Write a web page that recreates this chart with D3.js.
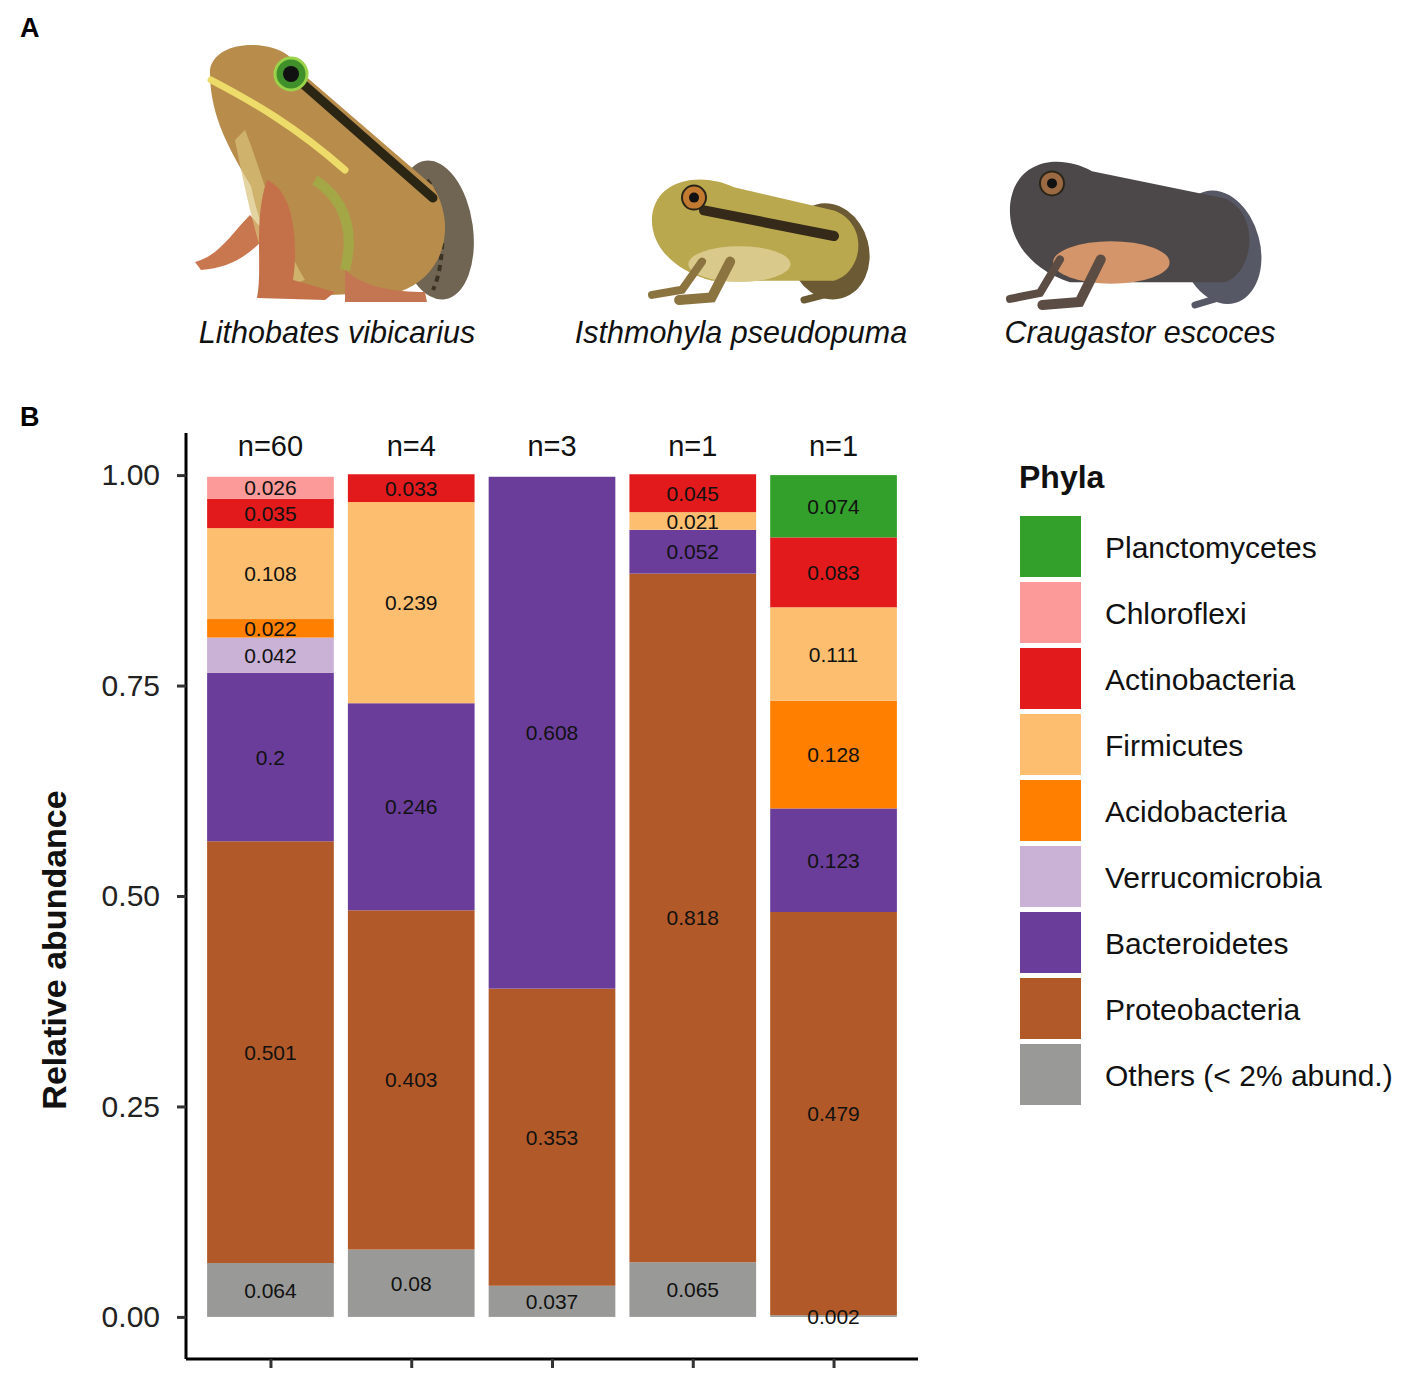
<!DOCTYPE html>
<html>
<head>
<meta charset="utf-8">
<script src="https://cdn.jsdelivr.net/npm/d3@7"></script>
<style>
  body { margin: 0; background: #fff; }
  svg { display: block; font-family: "Liberation Sans", Arial, Helvetica, sans-serif; }
</style>
</head>
<body>
<svg id="fig" width="1412" height="1374"></svg>
<script>
// Chart values
var samples = ["s1", "s2", "s3", "s4", "s5"];
var sampleSizes = ["n=60", "n=4", "n=3", "n=1", "n=1"];
var species = ["Lithobates vibicarius", "Isthmohyla pseudopuma", "Craugastor escoces"];

// legend order, top to bottom
var phyla = ["Planctomycetes", "Chloroflexi", "Actinobacteria", "Firmicutes", "Acidobacteria",
  "Verrucomicrobia", "Bacteroidetes", "Proteobacteria", "Others (< 2% abund.)"];
var phylaColors = ["#33a02c", "#fb9a99", "#e31a1c", "#fdbf6f", "#ff7f00",
  "#cab2d6", "#6a3d9a", "#b15928", "#999a98"];

// relative abundance of each phylum in each sample
var planctomycetes   = [0,     0,     0,     0,     0.074];
var chloroflexi      = [0.026, 0,     0,     0,     0];
var actinobacteria   = [0.035, 0.033, 0,     0.045, 0.083];
var firmicutes       = [0.108, 0.239, 0,     0.021, 0.111];
var acidobacteria    = [0.022, 0,     0,     0,     0.128];
var verrucomicrobia  = [0.042, 0,     0,     0,     0];
var bacteroidetes    = [0.2,   0.246, 0.608, 0.052, 0.123];
var proteobacteria   = [0.501, 0.403, 0.353, 0.818, 0.479];
var others           = [0.064, 0.08,  0.037, 0.065, 0.002];

var yTicks = [0, 0.25, 0.5, 0.75, 1];

var svg = d3.select("#fig");

// panel letters
svg.append("text").attr("x", 20).attr("y", 37).text("A")
  .style("font-size", "27px").style("font-weight", "bold");
svg.append("text").attr("x", 20).attr("y", 426).text("B")
  .style("font-size", "27px").style("font-weight", "bold");

/* ---------- Panel A: stylised frogs in place of the photos ---------- */
function frogUpright(g) {
  g.append("ellipse").attr("cx", 240).attr("cy", 190).attr("rx", 38).attr("ry", 70)
    .attr("transform", "rotate(-8,240,190)").attr("fill", "#6f6552");
  g.append("path").attr("d", "M232,140 C250,160 252,220 238,250").attr("fill", "none")
    .attr("stroke", "#3b3324").attr("stroke-width", 4).attr("stroke-dasharray", "6,5");
  g.append("path").attr("d", "M55,175 C35,195 25,215 0,222 L6,230 C35,228 55,215 72,195 Z").attr("fill", "#c9774e");
  g.append("path")
    .attr("d", "M15,30 C18,8 50,0 78,8 C92,12 100,20 108,34 L238,146 C262,186 250,236 204,252 L112,256 C84,238 64,186 56,146 C36,112 14,76 15,30 Z")
    .attr("fill", "#b88d4c");
  g.append("path").attr("d", "M50,90 C70,140 80,190 110,240 L80,250 C60,200 50,150 40,100 Z").attr("fill", "#d8c27a").attr("opacity", 0.7);
  g.append("path").attr("d", "M16,40 C58,62 100,86 150,130").attr("fill", "none")
    .attr("stroke", "#eedc6a").attr("stroke-width", 7).attr("stroke-linecap", "round");
  g.append("path").attr("d", "M108,44 L238,158").attr("fill", "none")
    .attr("stroke", "#2b2614").attr("stroke-width", 9).attr("stroke-linecap", "round");
  g.append("path").attr("d", "M120,140 C150,160 160,190 150,230").attr("fill", "none")
    .attr("stroke", "#9fae45").attr("stroke-width", 10).attr("opacity", 0.8);
  g.append("path").attr("d", "M72,140 C98,150 104,200 98,240 L140,252 L130,260 L62,258 C68,228 58,180 72,140 Z").attr("fill", "#c4714a");
  g.append("path").attr("d", "M150,230 C170,248 200,252 230,252 L232,262 L150,262 Z").attr("fill", "#c47552");
  g.append("circle").attr("cx", 96).attr("cy", 34).attr("r", 16).attr("fill", "#3f8f2a").attr("stroke", "#9ad24a").attr("stroke-width", 3);
  g.append("circle").attr("cx", 96).attr("cy", 34).attr("r", 8).attr("fill", "#111");
}

function frogCrouched(g, c) {
  g.append("ellipse").attr("cx", c.w - 45).attr("cy", c.h * 0.62).attr("rx", 40).attr("ry", c.h * 0.38)
    .attr("transform", "rotate(-15," + (c.w - 45) + "," + (c.h * 0.62) + ")").attr("fill", c.leg);
  g.append("path")
    .attr("d", "M10," + (c.h * 0.35) + " C14,6 60,0 92," + (c.h * 0.12) +
      " L" + (c.w - 40) + "," + (c.h * 0.3) + " C" + (c.w - 5) + "," + (c.h * 0.4) + " " + (c.w - 10) + "," + (c.h * 0.78) + " " + (c.w - 40) + "," + (c.h * 0.85) +
      " L70," + (c.h * 0.85) + " C36," + (c.h * 0.78) + " 8," + (c.h * 0.6) + " 10," + (c.h * 0.35) + " Z")
    .attr("fill", c.body);
  g.append("ellipse").attr("cx", c.w * 0.42).attr("cy", c.h * 0.72).attr("rx", c.w * 0.22).attr("ry", c.h * 0.14).attr("fill", c.belly);
  if (c.stripe) {
    g.append("path").attr("d", "M62," + (c.h * 0.3) + " L" + (c.w - 40) + "," + (c.h * 0.5)).attr("fill", "none")
      .attr("stroke", c.stripe).attr("stroke-width", 10).attr("stroke-linecap", "round");
  }
  g.append("path").attr("d", "M60," + (c.h * 0.7) + " L40," + (c.h * 0.92) + " L10," + (c.h * 0.96)).attr("fill", "none")
    .attr("stroke", c.arm).attr("stroke-width", 8).attr("stroke-linecap", "round");
  g.append("path").attr("d", "M" + (c.w * 0.38) + "," + (c.h * 0.7) + " L" + (c.w * 0.3) + "," + (c.h * 0.98) + " L" + (c.w * 0.16) + "," + c.h).attr("fill", "none")
    .attr("stroke", c.arm).attr("stroke-width", 10).attr("stroke-linecap", "round");
  g.append("path").attr("d", "M" + (c.w - 20) + "," + (c.h * 0.9) + " L" + (c.w - 70) + "," + c.h).attr("fill", "none")
    .attr("stroke", c.leg).attr("stroke-width", 7).attr("stroke-linecap", "round");
  g.append("circle").attr("cx", 52).attr("cy", c.h * 0.2).attr("r", 12).attr("fill", c.eye).attr("stroke", "#2a2418").attr("stroke-width", 2);
  g.append("circle").attr("cx", 52).attr("cy", c.h * 0.2).attr("r", 5).attr("fill", "#111");
}

frogUpright(svg.append("g").attr("transform", "translate(195,40)"));
frogCrouched(svg.append("g").attr("transform", "translate(642,172)"),
  {w: 232, h: 128, body: "#b9a84e", belly: "#d9c98a", stripe: "#35291a", leg: "#6b5a33", arm: "#8c7440", eye: "#c27a30"});
frogCrouched(svg.append("g").attr("transform", "translate(1000,153)"),
  {w: 265, h: 152, body: "#4c4748", belly: "#d4956a", stripe: null, leg: "#565865", arm: "#5b4c44", eye: "#9c6a42"});

var speciesX = [337, 741, 1140];
svg.selectAll(".species").data(species).enter().append("text")
  .attr("class", "species")
  .attr("x", function(d, i) { return speciesX[i]; })
  .attr("y", 343)
  .attr("text-anchor", "middle")
  .style("font-size", "30.5px").style("font-style", "italic").style("fill", "#111")
  .text(function(d) { return d; });

/* ---------- Panel B: stacked bars ---------- */
var x = d3.scalePoint().domain(samples).range([186, 918]).padding(0.6);
var barW = x.step() * 0.9;
var y = d3.scaleLinear().domain([-0.05, 1.05]).range([1359, 433]);
var color = d3.scaleOrdinal().domain(phyla).range(phylaColors);

var valueRows = [planctomycetes, chloroflexi, actinobacteria, firmicutes, acidobacteria,
  verrucomicrobia, bacteroidetes, proteobacteria, others];
var table = samples.map(function(s, i) {
  var row = {sample: s};
  phyla.forEach(function(p, k) { row[p] = valueRows[k][i]; });
  return row;
});
// stack from the bottom: Others first, Planctomycetes last
var stack = d3.stack().keys(phyla.slice().reverse())(table);

var layers = svg.append("g").selectAll("g").data(stack).enter().append("g")
  .attr("fill", function(d) { return color(d.key); });

layers.selectAll("rect").data(function(d) { return d.filter(function(e) { return e[1] - e[0] > 0; }); })
  .enter().append("rect")
  .attr("x", function(d) { return x(d.data.sample) - barW / 2; })
  .attr("width", barW)
  .attr("y", function(d) { return y(d[1]); })
  .attr("height", function(d) { return y(d[0]) - y(d[1]); });

var labels = svg.append("g");
stack.forEach(function(layer) {
  layer.forEach(function(d) {
    var v = d[1] - d[0];
    if (v <= 0) return;
    labels.append("text")
      .attr("x", x(d.data.sample))
      .attr("y", y((d[0] + d[1]) / 2))
      .attr("dy", "0.36em")
      .attr("text-anchor", "middle")
      .style("font-size", "21px").style("fill", "#111")
      .text(String(d.data[layer.key]));
  });
});

// sample sizes above bars
svg.selectAll(".nlab").data(samples).enter().append("text")
  .attr("class", "nlab")
  .attr("x", function(d) { return x(d); })
  .attr("y", 456)
  .attr("text-anchor", "middle")
  .style("font-size", "29px").style("fill", "#111")
  .text(function(d, i) { return sampleSizes[i]; });

// axes
var yAxis = svg.append("g").attr("transform", "translate(186,0)")
  .call(d3.axisLeft(y).tickValues(yTicks).tickFormat(d3.format(".2f")).tickSize(9).tickPadding(17));
var xAxis = svg.append("g").attr("transform", "translate(0,1359)")
  .call(d3.axisBottom(x).tickSize(9).tickFormat(""));
[yAxis, xAxis].forEach(function(a) {
  a.select(".domain").attr("stroke", "#000").attr("stroke-width", 3);
  a.selectAll(".tick line").attr("stroke", "#333").attr("stroke-width", 3);
});
yAxis.selectAll(".tick text").style("font-size", "30px").style("fill", "#222")
  .style("font-family", "'Liberation Sans', Arial, sans-serif");
// keep the axis lines exactly to the panel range
yAxis.select(".domain").attr("d", "M0,433V1359");
xAxis.select(".domain").attr("d", "M186,0H918");

svg.append("text")
  .attr("transform", "translate(66,950) rotate(-90)")
  .attr("text-anchor", "middle")
  .style("font-size", "34px").style("font-weight", "bold").style("fill", "#111")
  .text("Relative abundance");

// legend
var legend = svg.append("g").attr("transform", "translate(1019,0)");
legend.append("text").attr("x", 0).attr("y", 488).text("Phyla")
  .style("font-size", "32px").style("font-weight", "bold").style("fill", "#111");
var items = legend.selectAll(".item").data(phyla).enter().append("g")
  .attr("class", "item")
  .attr("transform", function(d, i) { return "translate(0," + (516 + i * 66) + ")"; });
items.append("rect").attr("x", 1).attr("width", 61).attr("height", 61)
  .attr("fill", function(d) { return color(d); });
items.append("text").attr("x", 86).attr("y", 31).attr("dy", "0.35em")
  .style("font-size", "30px").style("fill", "#111")
  .text(function(d) { return d; });
</script>
</body>
</html>
